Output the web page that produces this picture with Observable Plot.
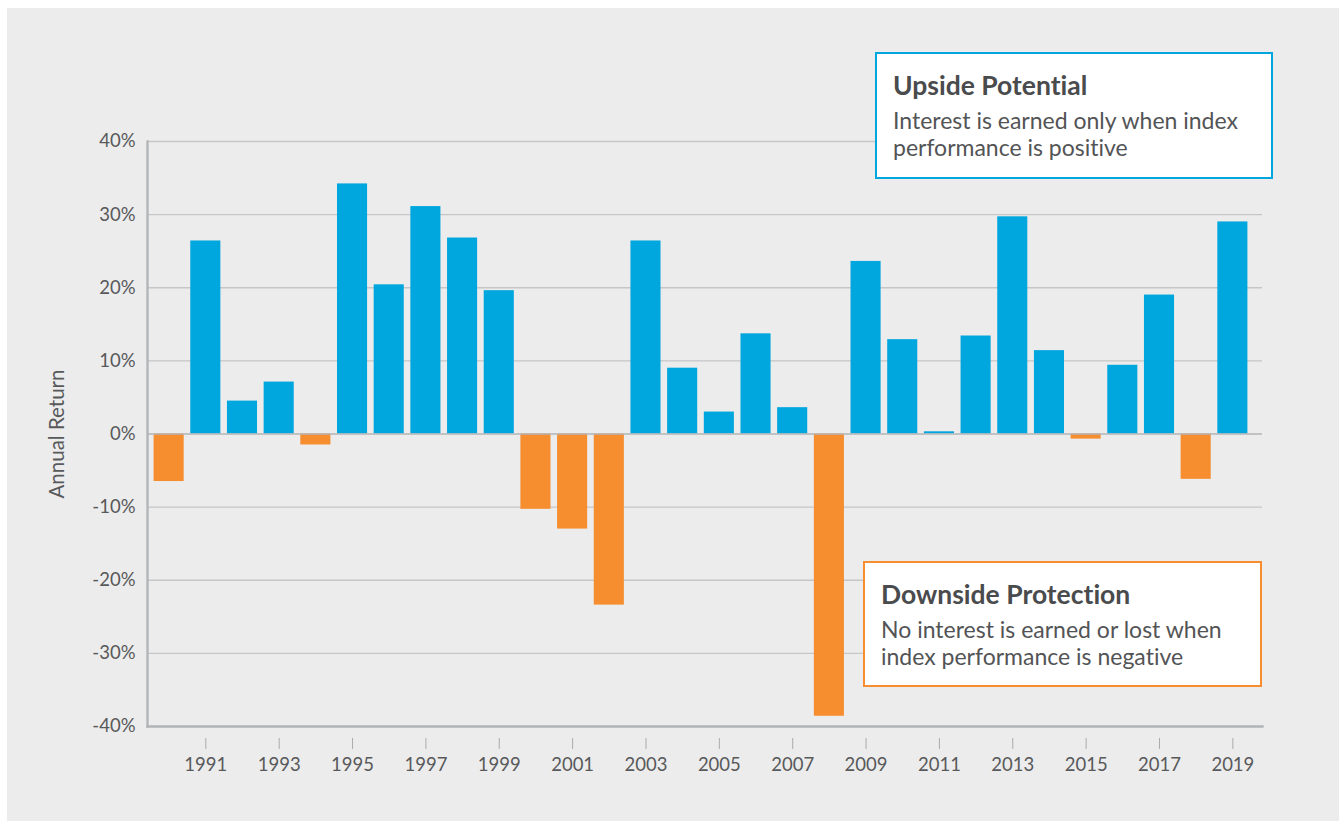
<!DOCTYPE html>
<html>
<head>
<meta charset="utf-8">
<script src="https://cdn.jsdelivr.net/npm/d3@7"></script>
<script src="https://cdn.jsdelivr.net/npm/@observablehq/plot@0.6"></script>
<style>
  html, body { margin: 0; padding: 0; background: #ffffff; }
  body { width: 1344px; height: 822px; position: relative; overflow: hidden; font-family: Lato, "Noto Sans", sans-serif; font-variant-ligatures: none; font-feature-settings: "liga" 0, "clig" 0, "dlig" 0, "calt" 0; }
  #panel { position: absolute; left: 7px; top: 8px; width: 1332px; height: 813px; background: #ececec; }
  #chart { position: absolute; left: 0; top: 0; }
  .box { position: absolute; box-sizing: border-box; background: #ffffff; border: 2.3px solid; }
  .box .t { position: absolute; left: 16px; font-weight: 700; font-size: 26.5px; line-height: 28px; color: #4a4b4d; white-space: nowrap; }
  .box .b { position: absolute; left: 16px; font-size: 23px; line-height: 27.7px; color: #535456; white-space: nowrap; }
</style>
</head>
<body>
<div id="panel"></div>
<div id="chart"></div>
<div class="box" id="up" style="left:875px; top:52px; width:398px; height:127px; border-color:#00a6de;">
  <div class="t" style="top:17px;">Upside Potential</div>
  <div class="b" style="top:52.5px;">Interest is earned only when index<br>performance is positive</div>
</div>
<div class="box" id="down" style="left:863px; top:561px; width:399px; height:126px; border-color:#f68d2e;">
  <div class="t" style="top:17px;">Downside Protection</div>
  <div class="b" style="top:52.5px;">No interest is earned or lost when<br>index performance is negative</div>
</div>
<script>
const years = [1990,1991,1992,1993,1994,1995,1996,1997,1998,1999,2000,2001,2002,2003,2004,2005,2006,2007,2008,2009,2010,2011,2012,2013,2014,2015,2016,2017,2018,2019];
const returns = [-6.5,26.4,4.5,7.1,-1.5,34.2,20.4,31.1,26.8,19.6,-10.3,-13.0,-23.4,26.4,9.0,3.0,13.7,3.6,-38.6,23.6,12.9,0.3,13.4,29.7,11.4,-0.7,9.4,19.0,-6.2,29.0];
const xTickYears = [1991,1993,1995,1997,1999,2001,2003,2005,2007,2009,2011,2013,2015,2017,2019];
const yTicks = [-40,-30,-20,-10,0,10,20,30,40];
const gridTicks = [-30,-20,-10,10,20,30,40];
const yLabel = "Annual Return";

const BLUE = "#00a6de", ORANGE = "#f68d2e";
const data = years.map((year, i) => ({year, value: returns[i]}));

const chart = Plot.plot({
  width: 1344,
  height: 822,
  marginLeft: 147,
  marginRight: 82,
  marginTop: 141,
  marginBottom: 96,
  style: {background: "transparent", fontFamily: "Lato, 'Noto Sans', sans-serif", fontSize: "18px", color: "#58595b"},
  x: {type: "band", domain: years, padding: 0.18, round: false, insetRight: 8},
  y: {domain: [-40, 40]},
  marks: [
    Plot.ruleY(gridTicks, {stroke: "#c5c6c7", strokeWidth: 1.3}),
    Plot.barY(data.filter(d => d.value >= 0), {x: "year", y: "value", fill: BLUE}),
    Plot.barY(data.filter(d => d.value < 0), {x: "year", y: "value", fill: ORANGE}),
    Plot.ruleY([0], {stroke: "#b3b5b7", strokeWidth: 1.5}),
    Plot.frame({anchor: "left", stroke: "#b1b4b6", strokeWidth: 2.3}),
    Plot.frame({anchor: "bottom", stroke: "#b1b4b6", strokeWidth: 2.3}),
    Plot.axisY({ticks: yTicks, tickSize: 0, tickPadding: 12, tickFormat: d => d + "%", fontSize: 18.5, fill: "#58595b", label: null}),
    Plot.axisY({ticks: [], tickSize: 0, fontSize: 20.5, fill: "#58595b",
      label: yLabel, labelAnchor: "center", labelArrow: "none", labelOffset: 98}),
    Plot.axisX({ticks: xTickYears, tickSize: 11, tickPadding: 8, dy: 12, stroke: "#a9abad", fontSize: 18.5, fill: "#58595b",
      tickFormat: d => String(d), label: null})
  ]
});
document.getElementById("chart").appendChild(chart);
</script>
</body>
</html>
